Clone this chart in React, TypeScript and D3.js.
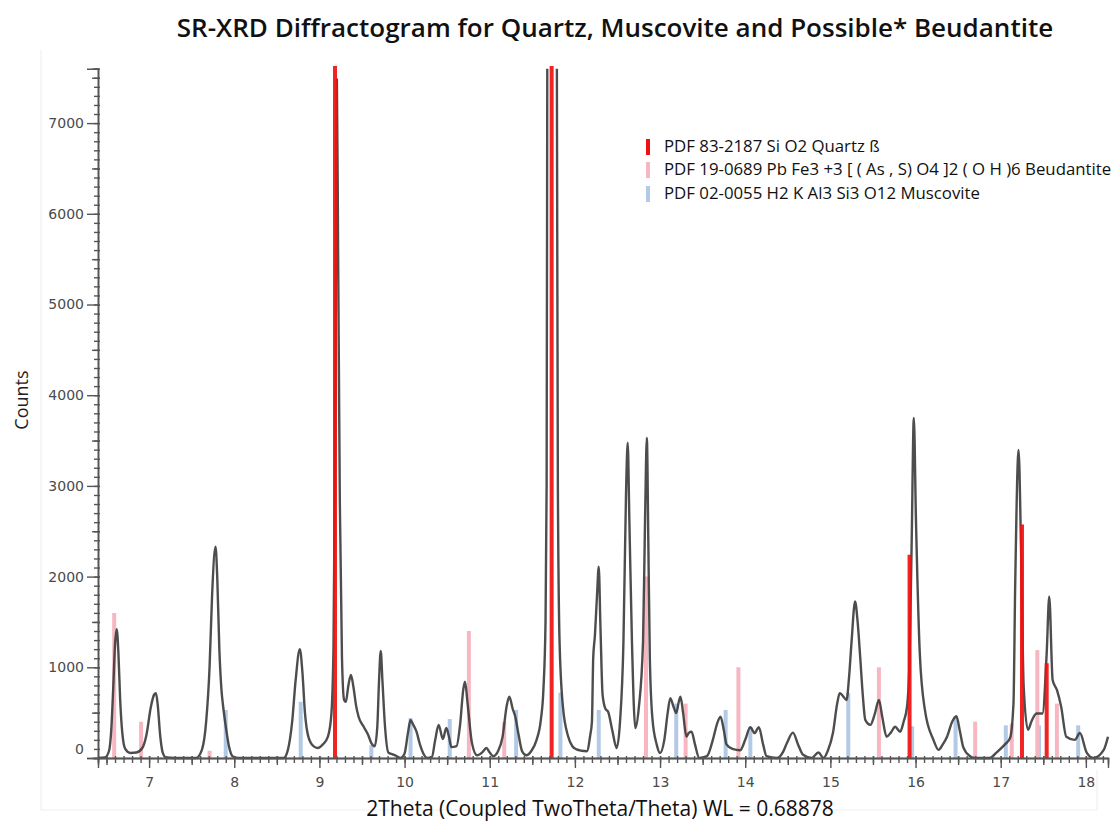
import React, { useEffect, useRef } from "react";
import * as d3 from "d3";

// ---- data ----
const TITLE = "SR-XRD Diffractogram for Quartz, Muscovite and Possible* Beudantite";
const X_LABEL = "2Theta (Coupled TwoTheta/Theta) WL = 0.68878";
const Y_LABEL = "Counts";

const X_TICKS = [7, 8, 9, 10, 11, 12, 13, 14, 15, 16, 17, 18];
const Y_TICKS = [0, 1000, 2000, 3000, 4000, 5000, 6000, 7000];

const LEGEND_LABELS = [
  "PDF 83-2187 Si O2 Quartz ß",
  "PDF 19-0689 Pb Fe3 +3 [ ( As , S) O4 ]2 ( O H )6 Beudantite",
  "PDF 02-0055 H2 K Al3 Si3 O12 Muscovite",
];

// Quartz reference lines (2theta, counts)
const QUARTZ_POS = [9.183, 11.727, 15.93, 17.25, 17.54];
const QUARTZ_INT = [7630, 7630, 2240, 2575, 1045];

// Beudantite reference lines
const BEUD_POS = [6.59, 6.906, 7.71, 10.755, 11.17, 12.835, 13.3, 13.92, 15.57, 16.7, 17.13, 17.43, 17.66];
const BEUD_INT = [1600, 400, 80, 1400, 400, 2000, 600, 1000, 1000, 400, 380, 1190, 600];

// Muscovite reference lines
const MUSC_POS = [7.9, 8.78, 9.61, 10.07, 10.53, 11.31, 11.83, 12.28, 13.19, 13.77, 14.06, 15.21, 15.96, 16.47, 17.06, 17.45, 17.91];
const MUSC_INT = [530, 620, 140, 440, 430, 530, 720, 530, 600, 530, 345, 715, 350, 455, 360, 360, 360];

const MEASURED: [number, number][] = [
  [6.4, 0], [6.48, 5], [6.53, 80], [6.555, 300], [6.58, 800], [6.6, 1250], [6.62, 1420], [6.64, 1150],
  [6.66, 650], [6.685, 280], [6.72, 100], [6.78, 55], [6.85, 60], [6.92, 110], [6.97, 260], [7.02, 560],
  [7.06, 700], [7.08, 715], [7.1, 600], [7.13, 250], [7.16, 60], [7.2, 5], [7.3, 0], [7.55, 0],
  [7.62, 90], [7.67, 400], [7.71, 1000], [7.74, 1800], [7.78, 2330], [7.8, 2000], [7.825, 1200],
  [7.85, 750], [7.87, 565], [7.9, 350], [7.94, 120], [7.98, 20], [8.05, 0], [8.58, 0], [8.63, 90],
  [8.68, 400], [8.72, 850], [8.77, 1200], [8.8, 950], [8.83, 500], [8.87, 235], [8.93, 130], [8.98, 110],
  [9.04, 150], [9.1, 235], [9.14, 480], [9.165, 1200], [9.185, 3500], [9.205, 7480], [9.22, 5500],
  [9.24, 2800], [9.265, 1100], [9.29, 640], [9.31, 620], [9.34, 800], [9.37, 915], [9.4, 780],
  [9.43, 580], [9.46, 455], [9.52, 345], [9.57, 260], [9.61, 165], [9.65, 130], [9.68, 350],
  [9.7, 850], [9.72, 1180], [9.74, 850], [9.77, 350], [9.81, 60], [9.86, 40], [9.9, 25], [9.95, 0],
  [10.0, 50], [10.04, 280], [10.07, 420], [10.1, 370], [10.14, 290], [10.18, 150], [10.22, 50],
  [10.27, 0], [10.32, 10], [10.36, 200], [10.4, 365], [10.45, 210], [10.49, 330], [10.52, 240],
  [10.55, 120], [10.61, 130], [10.65, 350], [10.69, 760], [10.71, 840], [10.74, 600], [10.79, 170],
  [10.85, 30], [10.92, 70], [10.96, 110], [11.0, 60], [11.04, 20], [11.1, 80], [11.15, 230],
  [11.2, 580], [11.23, 675], [11.27, 540], [11.3, 455], [11.34, 250], [11.38, 75], [11.43, 30],
  [11.49, 80], [11.55, 200], [11.6, 420], [11.63, 750], [11.655, 1500], [11.668, 3000], [11.676, 7800],
  [11.73, 20000], [11.788, 7800], [11.8, 3000], [11.82, 1280], [11.86, 560], [11.92, 240], [11.97, 130],
  [12.02, 95], [12.08, 80], [12.14, 75], [12.18, 250], [12.2, 400], [12.215, 1100], [12.235, 1350],
  [12.26, 1800], [12.28, 2110], [12.3, 1450], [12.325, 700], [12.36, 540], [12.39, 510], [12.44, 300],
  [12.49, 110], [12.53, 400], [12.57, 1280], [12.6, 2900], [12.62, 3475], [12.64, 2600], [12.67, 1280],
  [12.71, 330], [12.75, 550], [12.8, 1280], [12.825, 2700], [12.845, 3530], [12.862, 2400], [12.88, 1100],
  [12.91, 440], [12.96, 150], [13.0, 55], [13.05, 200], [13.09, 500], [13.12, 660], [13.16, 560],
  [13.19, 495], [13.22, 620], [13.24, 675], [13.27, 500], [13.31, 235], [13.34, 280], [13.37, 290],
  [13.41, 150], [13.46, 0], [13.55, 20], [13.62, 200], [13.67, 380], [13.71, 455], [13.75, 300],
  [13.78, 150], [13.85, 100], [13.94, 85], [14.0, 200], [14.06, 340], [14.11, 275], [14.16, 340],
  [14.21, 150], [14.25, 20], [14.37, 0], [14.44, 60], [14.49, 165], [14.56, 280], [14.62, 150],
  [14.68, 35], [14.78, 0], [14.86, 60], [14.92, 0], [14.97, 80], [15.03, 275], [15.08, 600],
  [15.11, 715], [15.15, 680], [15.19, 640], [15.22, 900], [15.25, 1300], [15.29, 1725], [15.32, 1500],
  [15.35, 1115], [15.38, 700], [15.41, 420], [15.47, 365], [15.52, 480], [15.57, 640], [15.61, 450],
  [15.66, 235], [15.71, 280], [15.76, 345], [15.82, 290], [15.86, 400], [15.9, 565], [15.93, 1100],
  [15.955, 2400], [15.98, 3750], [16.005, 2625], [16.05, 1155], [16.11, 530], [16.21, 200], [16.27, 90],
  [16.32, 150], [16.37, 235], [16.43, 400], [16.48, 460], [16.52, 300], [16.56, 120], [16.64, 20],
  [16.7, 0], [16.87, 0], [16.95, 60], [17.05, 150], [17.11, 220], [17.15, 600], [17.17, 1890],
  [17.21, 3395], [17.24, 2255], [17.27, 785], [17.32, 310], [17.36, 400], [17.42, 490], [17.49, 490],
  [17.54, 1155], [17.57, 1780], [17.61, 860], [17.66, 750], [17.71, 565], [17.77, 235], [17.87, 200],
  [17.93, 275], [18.01, 60], [18.09, 0], [18.21, 90], [18.26, 235],
];

const X_DOMAIN: [number, number] = [6.4, 18.26];
const Y_DOMAIN: [number, number] = [0, 7600];

// ---- styles ----
const W = 1116;
const H = 826;
const COL_QUARTZ = "#f01010";
const COL_BEUD = "#f6b7c3";
const COL_MUSC = "#b3cae6";
const COL_CURVE = "#3a3a3a";
const FONT = "'Open Sans', 'DejaVu Sans', sans-serif";
const TICK_FONT = "'DejaVu Sans', sans-serif";

export default function App() {
  const xAxisRef = useRef<SVGGElement>(null);
  const yAxisRef = useRef<SVGGElement>(null);

  const x = d3.scaleLinear().domain(X_DOMAIN).range([98, 1108]);
  const y = d3.scaleLinear().domain(Y_DOMAIN).range([758, 758 - 7600 * 0.0907]);

  const line = d3
    .line<[number, number]>()
    .x((d) => x(d[0]))
    .y((d) => y(d[1]))
    .curve(d3.curveMonotoneX);

  useEffect(() => {
    const gx = d3.select(xAxisRef.current!);
    gx.selectAll("*").remove();
    const minorX = d3.range(6.4, 18.26, 0.1).map((v) => Math.round(v * 10) / 10);
    const halfX = minorX.filter((v) => Math.abs(v * 2 - Math.round(v * 2)) < 1e-6 && !Number.isInteger(v));
    gx.append("g").call(d3.axisBottom(x).tickValues(minorX).tickSize(5).tickFormat(() => ""));
    gx.append("g").call(d3.axisBottom(x).tickValues(halfX).tickSize(7).tickFormat(() => ""));
    gx.append("g").call(d3.axisBottom(x).tickValues(X_TICKS).tickSize(10).tickPadding(9).tickFormat(d3.format("d")));
    gx.selectAll(".domain").attr("stroke", "#555").attr("stroke-width", 1.4);
    gx.selectAll("line").attr("stroke", "#555").attr("stroke-width", 1.4).attr("y1", -2);
    gx.selectAll("text").attr("font-family", TICK_FONT).attr("font-size", 14).attr("fill", "#4a4a4a");

    const gy = d3.select(yAxisRef.current!);
    gy.selectAll("*").remove();
    const minorY = d3.range(0, 7601, 100);
    const halfY = d3.range(500, 7600, 1000);
    gy.append("g").call(d3.axisLeft(y).tickValues(minorY).tickSize(4).tickFormat(() => ""));
    gy.append("g").call(d3.axisLeft(y).tickValues(halfY).tickSize(6).tickFormat(() => ""));
    gy.append("g").call(d3.axisLeft(y).tickValues(Y_TICKS).tickSize(11).tickPadding(3).tickFormat(d3.format("d")));
    gy.selectAll(".domain").attr("stroke", "#555").attr("stroke-width", 1.4);
    gy.selectAll("line").attr("stroke", "#555").attr("stroke-width", 1.4).attr("x1", 2);
    gy.selectAll("text").attr("font-family", TICK_FONT).attr("font-size", 14).attr("fill", "#4a4a4a");
    gy.selectAll<SVGTextElement, number>("text").filter((d) => d === 0).attr("dy", "-0.35em");
  });

  const legendY = [147, 170, 194];
  const legendCols = [COL_QUARTZ, COL_BEUD, COL_MUSC];

  return (
    <div>
      <style>{`body{margin:0;background:#fff}`}</style>
      <svg width={W} height={H} viewBox={`0 0 ${W} ${H}`} style={{ display: "block" }}>
        <defs>
          <clipPath id="plotClip">
            <rect x={98} y={y(Y_DOMAIN[1])} width={1016} height={758 - y(Y_DOMAIN[1]) + 3} />
          </clipPath>
        </defs>
        <rect width={W} height={H} fill="#fff" />
        {/* faint panel border */}
        <path d="M41,50 V810 H1097 V770" fill="none" stroke="#f0f0f0" strokeWidth={1.2} />

        <text x={615} y={37} textAnchor="middle" fontFamily={FONT} fontWeight={600} fontSize={26} fill="#111">
          {TITLE}
        </text>

        {/* reference sticks: muscovite & beudantite */}
        <g>
          {MUSC_POS.map((p, i) => (
            <line key={"m" + i} x1={x(p)} x2={x(p)} y1={y(0)} y2={y(MUSC_INT[i])} stroke={COL_MUSC} strokeWidth={4} />
          ))}
          {BEUD_POS.map((p, i) => (
            <line key={"b" + i} x1={x(p)} x2={x(p)} y1={y(0)} y2={y(BEUD_INT[i])} stroke={COL_BEUD} strokeWidth={4} />
          ))}
        </g>

        {/* measured curve */}
        <g clipPath="url(#plotClip)">
          <path d={line(MEASURED) || ""} fill="none" stroke={COL_CURVE} strokeWidth={2.4} strokeOpacity={0.9} strokeLinejoin="round" />
        </g>

        {/* quartz sticks */}
        <g>
          {QUARTZ_POS.map((p, i) => (
            <line key={"q" + i} x1={x(p)} x2={x(p)} y1={y(0)} y2={y(QUARTZ_INT[i])} stroke={COL_QUARTZ} strokeWidth={4} strokeOpacity={0.92} />
          ))}
        </g>

        <g ref={xAxisRef} transform={`translate(0,${y(0)})`} />
        <g ref={yAxisRef} transform={`translate(${x(X_DOMAIN[0])},0)`} />

        <text x={600} y={816} textAnchor="middle" fontFamily={FONT} fontSize={21} fill="#111">
          {X_LABEL}
        </text>
        <text transform="translate(28,400) rotate(-90)" textAnchor="middle" fontFamily={FONT} fontSize={18} fill="#222">
          {Y_LABEL}
        </text>

        {/* legend */}
        <g>
          {LEGEND_LABELS.map((t, i) => (
            <g key={t}>
              <rect x={646} y={legendY[i] - 8} width={4} height={16} fill={legendCols[i]} />
              <text x={664} y={legendY[i] + 5} fontFamily={FONT} fontSize={16.8} fill="#111">
                {t}
              </text>
            </g>
          ))}
        </g>
      </svg>
    </div>
  );
}
